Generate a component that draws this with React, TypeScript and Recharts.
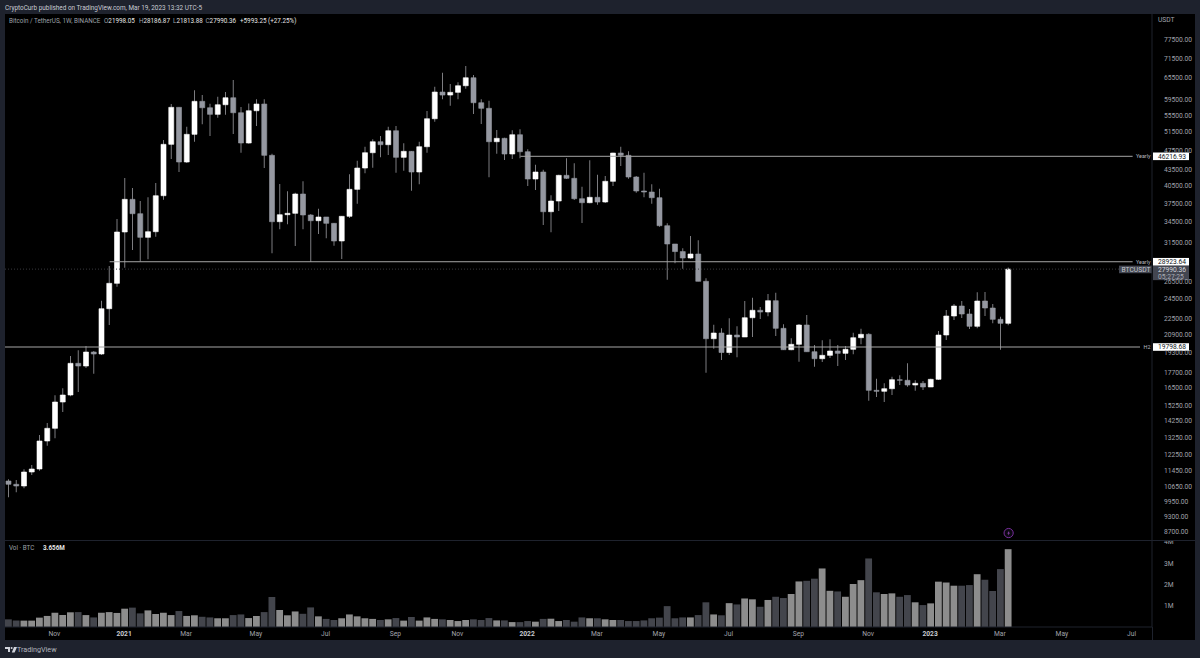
import { Bar, BarChart, Cell, ComposedChart, ReferenceDot, ReferenceLine, XAxis, YAxis } from "recharts";

// Weekly BTC/USDT candles, first one is the week of Sep 21 2020
const opens = [
  10914, 10755, 10674, 11359, 11511, 13037, 13794, 15504, 15994, 18414,
  18194, 19363, 19192, 23473, 26278, 33010, 38171, 35807, 32240, 33054,
  38789, 48743, 57455, 45056, 50958, 59008, 57354, 55695, 58124, 59960,
  56093, 49026, 56594, 58304, 46417, 34556, 35649, 35870, 39084, 35601,
  34710, 35286, 34311, 31716, 35397, 39906, 43869, 46958, 49310, 48660,
  51780, 46007, 47250, 43097, 48226, 54618, 61498, 60684, 61416, 63245,
  65534, 58643, 57203, 49310, 50062, 46687, 50869, 47167, 41777, 43097,
  36126, 37886, 42469, 41909, 38276, 37601, 38514, 37718, 41352, 46894,
  46417, 42152, 39609, 39432, 38448, 33947, 31295, 30262, 29406, 29935,
  26514, 20543, 21069, 19320, 20883, 20700, 22552, 23307, 23131, 24323,
  21514, 19562, 20037, 21832, 19389, 18795, 19080, 19450, 19250, 19597,
  20634, 20948, 16332, 16260, 16449, 17120, 17075, 16721, 16848, 16574,
  17150, 20883, 22722, 23756, 22926, 21707, 24290, 23545, 22392, 21998.05,
];
const highs = [
  10996, 10962, 11495, 11718, 13389, 14122, 15972, 16478, 19023, 19510,
  19887, 19450, 24323, 28380, 34972, 41963, 40138, 37886, 38514, 41041,
  49684, 58304, 57500, 52707, 61966, 60684, 58380, 60226, 61498, 64870,
  57540, 58467, 59535, 59535, 46750, 40860, 39555, 39310, 41352, 35760,
  36612, 35286, 34358, 35430, 42660, 45320, 48226, 49840, 50570, 52707,
  52870, 48960, 47310, 49310, 56520, 62960, 67000, 63730, 64200, 69030,
  66330, 59535, 59170, 51940, 50200, 51880, 52100, 47670, 44520, 43540,
  38860, 42590, 45800, 44790, 40370, 45400, 42590, 42340, 46958, 48226,
  47250, 42340, 42970, 40800, 40020, 34311, 31295, 30700, 32430, 31810,
  26870, 21860, 21514, 22490, 21707, 24290, 24650, 23650, 25060, 25200,
  21900, 20580, 21930, 22825, 19970, 20400, 20490, 19970, 19887, 21090,
  21480, 21040, 17200, 16850, 17350, 17460, 18410, 17075, 17020, 17200,
  21260, 23340, 23970, 24290, 23440, 25250, 25282, 23970, 22650, 28186.87,
];
const lows = [
  10151, 10380, 10566, 11208, 11425, 12768, 13195, 14830, 15902, 16209,
  18033, 17589, 19109, 21832, 25884, 28167, 30472, 28947, 29238, 32326,
  38106, 45660, 43097, 44856, 49310, 53274, 50567, 54861, 55597, 51026,
  46958, 48875, 52873, 43869, 30027, 33406, 34159, 31017, 33406, 28889,
  32720, 32100, 31060, 29280, 35130, 37430, 42850, 43930, 46007, 46490,
  42964, 43350, 39660, 40800, 46958, 53880, 59535, 57870, 59535, 62410,
  55770, 53340, 42090, 46750, 45460, 45660, 45800, 40500, 39770, 34050,
  32960, 36240, 41777, 38060, 34360, 37500, 37270, 37550, 40500, 44260,
  41840, 39310, 38514, 37430, 33790, 26700, 28720, 28040, 29320, 26514,
  17660, 19650, 18690, 19109, 18910, 20720, 20700, 22430, 22700, 20790,
  19540, 19510, 18540, 19389, 18140, 18521, 18850, 18194, 18690, 19170,
  20037, 15590, 15850, 15504, 15990, 16721, 16590, 16300, 16350, 16650,
  17100, 20430, 22325, 22520, 21450, 21514, 22722, 21997, 19562, 21813.88,
];
const closes = [
  10755, 10674, 11359, 11511, 13037, 13794, 15504, 15994, 18414, 18194,
  19363, 19192, 23473, 26278, 33010, 38171, 35807, 32240, 33054, 38789,
  48743, 57455, 45056, 50958, 59008, 57354, 55695, 58124, 59960, 56093,
  49026, 56594, 58304, 46417, 34556, 35649, 35870, 39084, 35601, 34710,
  35286, 34311, 31716, 35397, 39906, 43869, 46958, 49310, 48660, 51780,
  46007, 47250, 43097, 48226, 54618, 61498, 60684, 61416, 63245, 65534,
  58643, 57203, 49310, 50062, 46687, 50869, 47167, 41777, 43097, 36126,
  37886, 42469, 41909, 38276, 37601, 38514, 37718, 41352, 46894, 46417,
  42152, 39609, 39432, 38448, 33947, 31295, 30262, 29406, 29935, 26514,
  20543, 21069, 19320, 20883, 20700, 22552, 23307, 23131, 24323, 21514,
  19562, 20037, 21832, 19389, 18795, 19080, 19450, 19250, 19597, 20634,
  20948, 16332, 16260, 16449, 17120, 17075, 16721, 16848, 16574, 17150,
  20883, 22722, 23756, 22926, 21707, 24290, 23545, 22392, 21998.05, 27990.36,
];
// volume in millions of BTC
const volumes = [
  0.36, 0.3, 0.3, 0.3, 0.44, 0.52, 0.67, 0.56, 0.69, 0.7,
  0.56, 0.45, 0.67, 0.7, 0.66, 0.86, 0.91, 0.64, 0.78, 0.61,
  0.67, 0.56, 0.75, 0.52, 0.55, 0.48, 0.45, 0.41, 0.41, 0.56,
  0.59, 0.42, 0.52, 0.7, 1.41, 0.8, 0.55, 0.73, 0.62, 0.92,
  0.5, 0.38, 0.33, 0.41, 0.59, 0.5, 0.41, 0.38, 0.33, 0.36,
  0.42, 0.3, 0.47, 0.3, 0.45, 0.38, 0.36, 0.33, 0.28, 0.33,
  0.36, 0.33, 0.42, 0.31, 0.31, 0.23, 0.23, 0.28, 0.25, 0.38,
  0.39, 0.28, 0.33, 0.25, 0.45, 0.41, 0.41, 0.36, 0.33, 0.33,
  0.28, 0.28, 0.31, 0.41, 0.44, 0.98, 0.41, 0.45, 0.45, 0.56,
  1.16, 0.59, 0.55, 1.12, 1.06, 1.34, 1.3, 0.95, 1.27, 1.42,
  1.36, 1.55, 2.14, 2.17, 2.27, 2.75, 1.7, 1.67, 1.42, 2.02,
  2.2, 3.22, 1.63, 1.55, 1.58, 1.42, 1.5, 1.16, 1.03, 1.11,
  2.13, 2.09, 1.94, 1.94, 1.97, 2.48, 2.22, 1.69, 2.72, 3.656,
];

const priceTicks = [
  77500, 71500, 65500, 59500, 55500, 51500, 47500, 43500, 40500, 37500, 34500, 31500, 26500, 24500, 22500,
  20900, 19300, 17700, 16500, 15250, 14250, 13250, 12250, 11450, 10650, 9950, 9300, 8700,
];
const volumeTicks = [1, 2, 3, 4];
const timeTickWeeks = [6, 15, 23, 32, 41, 50, 58, 67, 76, 84, 93, 102, 111, 119, 128, 136, 145];
const timeTickLabels = ["Nov", "2021", "Mar", "May", "Jul", "Sep", "Nov", "2022", "Mar", "May", "Jul", "Sep", "Nov", "2023", "Mar", "May", "Jul"];

const yearlyHigh = 46216.93;
const yearlyMid = 28923.64;
const h2Level = 19798.68;
const lastPrice = 27990.36;

const WEEKS_ON_AXIS = 148; // includes the empty weeks right of the last candle

const FRAME = "#1e222d";
const UP = "#ffffff";
const DOWN = "#9598a1";
const VOL_UP = "#8d8d8d";
const VOL_DOWN = "#43454c";
const AXIS_TEXT = "#a0a3ab";
const FONT = "Roboto, sans-serif";
const AXIS_X = 1152;

const rows = Array.from({ length: WEEKS_ON_AXIS }, (_, week) =>
  week < closes.length
    ? {
        week,
        wick: [lows[week], highs[week]],
        body: [Math.min(opens[week], closes[week]), Math.max(opens[week], closes[week])],
        volume: volumes[week],
        up: closes[week] >= opens[week],
      }
    : { week, wick: null, body: null, volume: null, up: true },
);
const candles = rows.slice(0, closes.length);

function LevelTag({ viewBox, name, value, lineEnd }: any) {
  const y = viewBox.y;
  return (
    <g fontFamily={FONT} fontSize={6.7}>
      {lineEnd ? <rect x={lineEnd} y={y - 3} width={AXIS_X - lineEnd} height={6} fill="#000" /> : null}
      <text x={AXIS_X - 1.5} y={y + 2} fontSize={5.4} fill="#b8bac0" textAnchor="end">
        {name}
      </text>
      <rect x={AXIS_X + 1} y={y - 3.8} width={36} height={7.6} fill="#fff" />
      <text x={AXIS_X + 6} y={y + 2.4} fill="#131722">
        {value.toFixed(2)}
      </text>
    </g>
  );
}

function LastPriceTag({ viewBox }: any) {
  const y = viewBox.y;
  return (
    <g fontFamily={FONT} fontSize={6.7}>
      <rect x={AXIS_X - 33} y={y - 3.5} width={33} height={7.6} fill="#434651" />
      <text x={AXIS_X - 30.5} y={y + 2.5} fill="#c3c6ce">
        BTCUSDT
      </text>
      <rect x={AXIS_X + 1} y={y - 3.5} width={36} height={14.5} fill="#434651" />
      <text x={AXIS_X + 6} y={y + 2.5} fill="#d6d8de">
        {lastPrice.toFixed(2)}
      </text>
      <text x={AXIS_X + 6} y={y + 9.5} fill="#a9acb5">
        05:27:25
      </text>
    </g>
  );
}

function EarningsMark({ cx, cy }: any) {
  return (
    <g>
      <circle cx={cx} cy={cy} r={4.6} fill="#0b0710" stroke="#7a2f9e" strokeWidth={1} />
      <path d={`M${cx + 0.6} ${cy - 2.4}L${cx - 1.4} ${cy + 0.4}H${cx - 0.2}L${cx - 0.6} ${cy + 2.4}L${cx + 1.4} ${cy - 0.4}H${cx + 0.2}Z`} fill="#8d45ad" />
    </g>
  );
}

function TimeTick({ x, y, payload }: any) {
  const label = timeTickLabels[timeTickWeeks.indexOf(payload.value)];
  const isYear = label.startsWith("20");
  return (
    <text x={x - 1} y={y + 1} textAnchor="middle" fontFamily={FONT} fontSize={6.7} fontWeight={isYear ? 700 : 400} fill={isYear ? "#c8cad0" : AXIS_TEXT}>
      {label}
    </text>
  );
}

function PriceChart() {
  return (
    <ComposedChart width={1200} height={540} data={rows} margin={{ top: 14, right: 5, bottom: 0, left: 5 }} style={{ position: "absolute", left: 0, top: 0 }}>
      <XAxis dataKey="week" xAxisId="wick" hide />
      <XAxis dataKey="week" xAxisId="body" hide />
      <YAxis
        scale="log"
        type="number"
        orientation="right"
        width={43}
        domain={[8396, 87000]}
        allowDataOverflow
        ticks={priceTicks}
        interval={0}
        axisLine={{ stroke: FRAME }}
        tickLine={false}
        tickMargin={6}
        tick={{ fill: AXIS_TEXT, fontSize: 6.7, fontFamily: FONT }}
        tickFormatter={(v: number) => v.toFixed(2)}
      />
      <ReferenceLine xAxisId="wick" y={lastPrice} stroke="#38383d" strokeDasharray="1 2" label={(p: any) => <LastPriceTag {...p} />} />
      <ReferenceLine
        xAxisId="wick"
        stroke="#a6a6a6"
        segment={[
          { x: 66, y: yearlyHigh },
          { x: 145, y: yearlyHigh },
        ]}
        label={(p: any) => <LevelTag {...p} name="Yearly" value={yearlyHigh} />}
      />
      <ReferenceLine
        xAxisId="wick"
        stroke="#a6a6a6"
        segment={[
          { x: 13, y: yearlyMid },
          { x: 145, y: yearlyMid },
        ]}
        label={(p: any) => <LevelTag {...p} name="Yearly" value={yearlyMid} />}
      />
      <ReferenceLine xAxisId="wick" y={h2Level} stroke="#a6a6a6" label={(p: any) => <LevelTag {...p} name="H2" value={h2Level} lineEnd={1140} />} />
      <Bar dataKey="wick" xAxisId="wick" barSize={1} isAnimationActive={false}>
        {rows.map((r) => (
          <Cell key={r.week} fill="#7c7c80" />
        ))}
      </Bar>
      <Bar dataKey="body" xAxisId="body" barSize={5} isAnimationActive={false}>
        {rows.map((r) => (
          <Cell key={r.week} fill={r.up ? UP : DOWN} stroke={r.up ? UP : DOWN} strokeWidth={0.6} />
        ))}
      </Bar>
      <ReferenceDot xAxisId="wick" x={candles.length - 1} y={8660} r={4.6} shape={(p: any) => <EarningsMark {...p} />} />
    </ComposedChart>
  );
}

function VolumeChart() {
  return (
    <BarChart width={1200} height={99} data={rows} margin={{ top: 0, right: 5, bottom: 0, left: 5 }} style={{ position: "absolute", left: 0, top: 541 }}>
      <XAxis
        dataKey="week"
        height={13}
        ticks={timeTickWeeks}
        interval={0}
        axisLine={{ stroke: FRAME }}
        tickLine={false}
        tick={(p: any) => <TimeTick {...p} />}
      />
      <YAxis
        type="number"
        orientation="right"
        width={43}
        domain={[0, 4.04]}
        ticks={volumeTicks}
        interval={0}
        axisLine={{ stroke: FRAME }}
        tickLine={false}
        tickMargin={6}
        tick={{ fill: AXIS_TEXT, fontSize: 6.7, fontFamily: FONT }}
        tickFormatter={(v: number) => `${v}M`}
      />
      <Bar dataKey="volume" barSize={6.8} isAnimationActive={false}>
        {rows.map((r) => (
          <Cell key={r.week} fill={r.up ? VOL_UP : VOL_DOWN} />
        ))}
      </Bar>
    </BarChart>
  );
}

function Caption({ x, y, color, weight, size, children }: any) {
  return (
    <div style={{ position: "absolute", left: x, top: y, color, fontWeight: weight ?? 400, fontSize: size ?? 6.3, lineHeight: "8px", whiteSpace: "nowrap" }}>
      {children}
    </div>
  );
}

export default function App() {
  return (
    <div style={{ position: "absolute", left: 0, top: 0, width: 1200, height: 658, background: FRAME, overflow: "hidden", fontFamily: FONT }}>
      <div style={{ position: "absolute", left: 5, top: 14, width: 1190, height: 526, background: "#000" }} />
      <div style={{ position: "absolute", left: 5, top: 541, width: 1190, height: 99, background: "#000" }} />
      <div style={{ position: "absolute", left: AXIS_X, top: 627, width: 1, height: 13, background: FRAME }} />
      <PriceChart />
      <VolumeChart />

      <Caption x={5} y={3.5} color="#c9ccd4" size={6.4}>
        CryptoCurb published on TradingView.com, Mar 19, 2023 13:32 UTC-5
      </Caption>

      <Caption x={9} y={17} color="#9da0a8">
        Bitcoin / TetherUS, 1W, BINANCE
      </Caption>
      <Caption x={104} y={17} color="#9da0a8">
        O<span style={{ color: "#e6e6e6" }}>21998.05</span>
      </Caption>
      <Caption x={139} y={17} color="#9da0a8">
        H<span style={{ color: "#e6e6e6" }}>28186.87</span>
      </Caption>
      <Caption x={173} y={17} color="#9da0a8">
        L<span style={{ color: "#e6e6e6" }}>21813.88</span>
      </Caption>
      <Caption x={205.5} y={17} color="#9da0a8">
        C<span style={{ color: "#e6e6e6" }}>27990.36</span>
      </Caption>
      <Caption x={240} y={17} color="#e6e6e6">
        +5993.25 (+27.25%)
      </Caption>

      <Caption x={1158} y={16} color={AXIS_TEXT} size={6.7}>
        USDT
      </Caption>

      <Caption x={9} y={544} color="#9da0a8">
        Vol · BTC
      </Caption>
      <Caption x={43} y={544} color="#e6e6e6" weight={700}>
        3.656M
      </Caption>

      <svg style={{ position: "absolute", left: 5, top: 646 }} width={13} height={8}>
        <path d="M0 1H5V6H3V3H0Z M9 1H12L9.6 6.5H6.8Z" fill="#d1d4dc" />
        <circle cx="6.6" cy="2" r="1" fill="#d1d4dc" />
      </svg>
      <Caption x={17} y={646} color="#b2b5be" size={7.2}>
        TradingView
      </Caption>
    </div>
  );
}
